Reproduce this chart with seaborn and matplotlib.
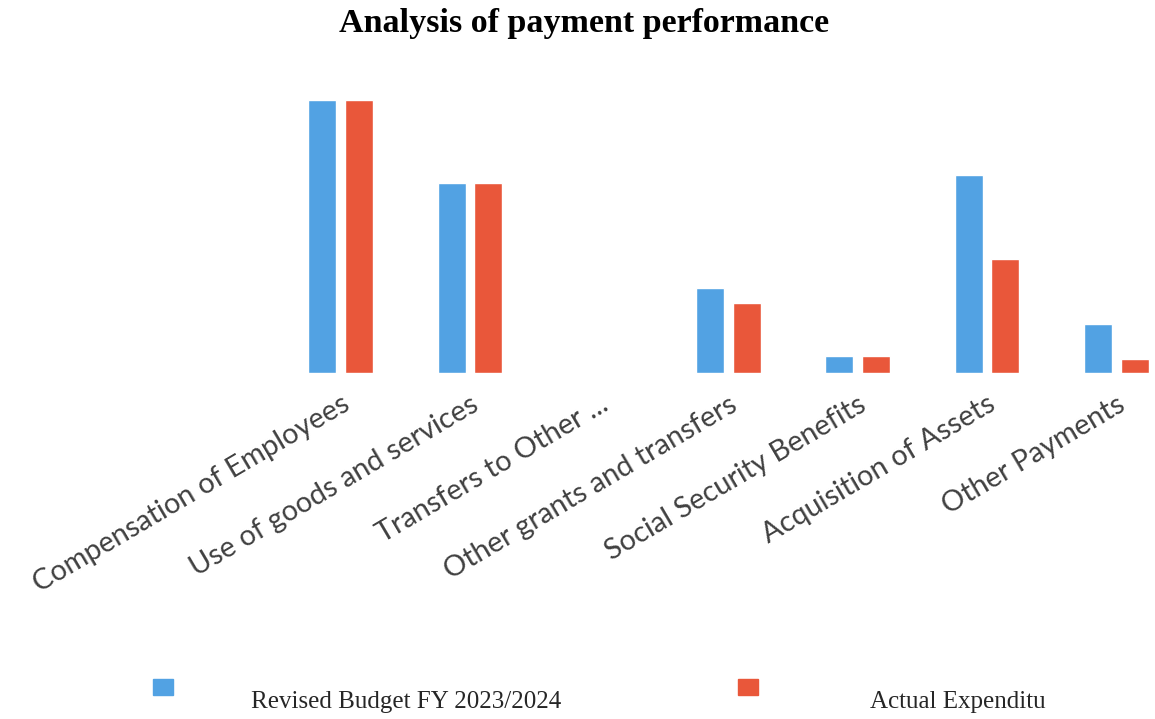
import pandas as pd
import matplotlib.pyplot as plt
import seaborn as sns

# values (no axis in source, relative units)
categories = ['Compensation of Employees', 'Use of goods and services',
              'Transfers to Other ...', 'Other grants and transfers',
              'Social Security Benefits', 'Acquisition of Assets',
              'Other Payments']
revised_budget = [273, 190, 0, 85, 17, 198, 49]
actual_exp = [273, 190, 0, 70, 17, 114, 14]
series = ['Revised Budget FY 2023/2024', 'Actual Expenditu']
colors = ['#52A2E3', '#E9573A']

df = pd.DataFrame({
    'Category': categories * 2,
    'Series': [series[0]] * len(categories) + [series[1]] * len(categories),
    'Value': revised_budget + actual_exp,
})

sns.set_style('white')
fig = plt.figure(figsize=(11.55, 7.19), dpi=100)
ax = fig.add_axes([0.239, 0.481, 0.761, 0.397])

sns.barplot(data=df, x='Category', y='Value', hue='Series',
            palette=colors, width=0.57, gap=0.24,
            saturation=1, ax=ax, legend=False)

ax.set_xlim(-0.5, 6.3)
ax.set_ylim(0, 285)
ax.set_xlabel('')
ax.set_ylabel('')
ax.set_yticks([])
sns.despine(ax=ax, left=True, bottom=True)
ax.tick_params(axis='x', length=0, pad=13)
ax.set_xticks(range(len(categories)))
ax.set_xticklabels(categories, rotation=30.5, ha='right', rotation_mode='anchor',
                   fontsize=20.8, family='Lato', color='#404040')

fig.text(0.506, 0.968, 'Analysis of payment performance', ha='center', va='center',
         fontsize=24.5, fontweight='bold', family='Liberation Serif', color='black')

handles = [plt.Rectangle((0, 0), 1, 1, color=c) for c in colors]
leg = fig.legend(handles, series, loc='center left', bbox_to_anchor=(0.113, 0.040),
                 ncol=2, frameon=False, handlelength=0.8, handleheight=0.6,
                 handletextpad=3.1, columnspacing=7.1,
                 prop={'family': 'Liberation Serif', 'size': 18})
# legend text sits lower than the swatches in the source
leg.get_texts()[0].set_position((0, -12))
leg.get_texts()[1].set_position((34, -12))

plt.savefig('out.png', dpi=100)
